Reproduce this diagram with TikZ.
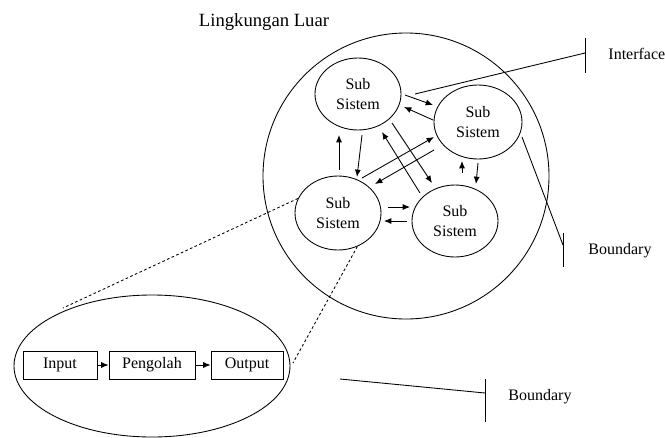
\documentclass[tikz,border=0pt]{standalone}
\usepackage{fontspec}
\setmainfont{Liberation Serif}
\usetikzlibrary{shapes.geometric,arrows.meta}
\begin{document}
\begin{tikzpicture}[x=0.75pt,y=-0.75pt, line width=0.65pt,
 sub/.style={ellipse, draw, inner sep=0pt, align=center, font=\fontsize{12}{15}\selectfont},
 arr/.style={-{Latex[length=5.5pt,width=4.5pt]}},
 blk/.style={draw, minimum height=21pt, inner sep=0pt, font=\fontsize{12}{14}\selectfont},
 lbl/.style={font=\fontsize{12}{14}\selectfont, inner sep=0pt, anchor=west},
 dsh/.style={dash pattern=on 2pt off 1.8pt}]
\useasboundingbox (0,0) rectangle (665,437);
% title
\node[font=\fontsize{14}{16}\selectfont, inner sep=0pt] (title) at (264,22) {Lingkungan Luar};
% environment circle
\node[circle, draw, minimum size=214.5pt, inner sep=0pt] (env) at (406,176) {};
% subsystems
\node[sub, minimum width=64.5pt, minimum height=54pt] (s1) at (358,94) {Sub\\Sistem};
\node[sub, minimum width=66pt, minimum height=55.5pt] (s2) at (478,122) {Sub\\Sistem};
\node[sub, minimum width=64.5pt, minimum height=55.5pt] (s3) at (338,213) {Sub\\Sistem};
\node[sub, minimum width=64.5pt, minimum height=54pt] (s4) at (455,221) {Sub\\Sistem};
% arrows
\draw[arr] (405,95) -- (433,105);
\draw[arr] (433,120) -- (404,107);
\draw[arr] (339,170) -- (339,135);
\draw[arr] (362,135) -- (357,177);
\draw[arr] (420,193) -- (382,132);
\draw[arr] (392,123) -- (432,183);
\draw[arr] (362,178) -- (434,137);
\draw[arr] (434,150) -- (375,184);
\draw[arr] (462,173) -- (462,161);
\draw[arr] (478,163) -- (476,184);
\draw[arr] (388,207) -- (410,207);
\draw[arr] (407,221) -- (384,221);
% interface
\coordinate (ifA) at (415,94);
\coordinate (ifB) at (585,53);
\draw (ifA) -- (ifB);
\draw (585,38) -- (585,73);
\node[lbl] (iflbl) at (608,54) {Interface};
% boundary right
\coordinate (bdA) at (522,137);
\coordinate (bdB) at (563,245);
\draw (bdA) -- (bdB);
\draw (563,233) -- (563,267);
\node[lbl] (bdlbl) at (588,251) {Boundary};
% boundary bottom
\coordinate (bbA) at (340,379);
\coordinate (bbB) at (485,393);
\draw (bbA) -- (bbB);
\draw (485,379) -- (485,422);
\node[lbl] (bblbl) at (508,397) {Boundary};
% lower ellipse
\node[ellipse, draw, minimum width=207pt, minimum height=106.5pt, inner sep=0pt] (zoom) at (152,366) {};
\node[blk, minimum width=55.5pt] (in) at (60,365) {Input};
\node[blk, minimum width=64.5pt] (pr) at (152,365) {Pengolah};
\node[blk, minimum width=54pt] (out) at (247,365) {Output};
\draw[arr] (in) -- (pr);
\draw[arr] (pr) -- (out);
% dashed
\coordinate (d1) at (63,308);
\coordinate (d2) at (293,363);
\draw[dsh] (s3.160) -- (d1);
\draw[dsh] (s3.-60) -- (d2);
\end{tikzpicture}
\end{document}
